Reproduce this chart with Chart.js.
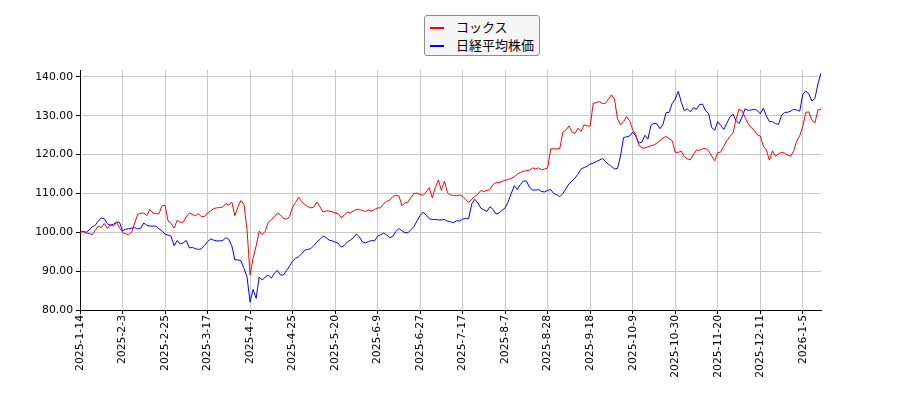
<!DOCTYPE html>
<html>
<head>
<meta charset="utf-8">
<script src="https://cdn.jsdelivr.net/npm/chart.js@4/dist/chart.umd.min.js"></script>
<style>
    body { margin: 0; background: #fff; }
    #wrap { position: relative; width: 900px; height: 400px; }
    #legend {
        position: absolute; left: 424px; top: 15px; width: 114px; height: 39px;
        border: 1px solid #8c8c8c; border-radius: 3px; background: #f5f5f5;
        font-family: "Noto Sans CJK JP", "DejaVu Sans", sans-serif; font-size: 13px; color: #000;
    }
    .row { position: absolute; left: 5px; height: 18px; line-height: 18px; white-space: nowrap; }
    .row i { display: inline-block; width: 14px; height: 2px; vertical-align: middle; margin-right: 12px; }
</style>
</head>
<body>
<div id="wrap">
    <canvas id="lineChart" width="900" height="400"></canvas>
    <div id="legend">
        <div class="row" style="top:2px"><i style="background:#ff0000"></i>コックス</div>
        <div class="row" style="top:20px"><i style="background:#0000ff"></i>日経平均株価</div>
    </div>
</div>
<script>
// x tick labels, one every 14 trading days
const tickLabels = ['2025-1-14', '2025-2-3', '2025-2-25', '2025-3-17', '2025-4-7', '2025-4-25',
    '2025-5-20', '2025-6-9', '2025-6-27', '2025-7-17', '2025-8-7', '2025-8-28',
    '2025-9-18', '2025-10-9', '2025-10-30', '2025-11-20', '2025-12-11', '2026-1-5'];
const tickStep = 14;
const yTicks = [80, 90, 100, 110, 120, 130, 140];

// コックス (indexed, start = 100)
const coxValues = [
    100, 100.2, 99.8, 99.7, 99.4, 100.5, 101.6, 101.2, 102.3, 101,
    102, 101.6, 102.6, 101.2, 100, 99.6, 99.4, 100, 102.4, 104.6,
    104.9, 105, 104.3, 105.9, 105, 104.8, 104.8, 106.8, 107, 102.9,
    102.3, 101.1, 103.1, 102.6, 102.6, 104, 105, 104.6, 104.3, 104.8,
    104, 104.1, 105, 105.5, 106.1, 106.3, 106.4, 106.5, 107.4, 107,
    107.8, 104.3, 106.5, 108.2, 107.2, 100.7, 89, 93.3, 96.5, 100.3,
    99.4, 100.3, 102.6, 103.3, 104, 105, 104.5, 103.6, 103.4, 104,
    106.5, 107.7, 109, 107.9, 107.2, 106.6, 106.3, 106.5, 107.8, 106.6,
    105.2, 105.5, 105.5, 105.3, 105, 104.8, 103.8, 104.4, 105.2, 105,
    105.5, 105.9, 105.9, 105.6, 105.4, 105.7, 105.5, 105.9, 106.3, 106.3,
    107.4, 108, 108.3, 109.2, 109.5, 109.4, 106.9, 107.5, 107.8, 109,
    110, 110.1, 109.8, 109.5, 110.4, 111.5, 108.9, 111.5, 113.5, 110.8,
    113.2, 110.2, 109.6, 109.5, 109.4, 109.6, 109.3, 108.5, 107.7, 108.6,
    109.2, 109.8, 110.8, 110.5, 110.8, 111, 112.3, 112.8, 112.8, 113.1,
    113.4, 113.6, 113.9, 114.3, 115, 115.4, 115.7, 115.9, 116, 116.6,
    116.3, 116.6, 116.1, 116.3, 116.6, 121.5, 121.5, 121.5, 121.6, 125.8,
    126.3, 127.4, 125.8, 125.5, 126.8, 126, 127.7, 127.4, 127.4, 133.2,
    133.4, 133.7, 133.2, 133.2, 134.3, 135.4, 134.3, 129.2, 127.7, 128.5,
    129.8, 128.7, 126.4, 125.2, 122.5, 121.7, 121.7, 122, 122.3, 122.5,
    123, 123.6, 124.3, 124.7, 124.1, 123.6, 120.6, 120.6, 120.9, 119.5,
    118.9, 118.7, 120, 121.2, 121.1, 121.5, 121.6, 121, 119.6, 118.4,
    120.5, 120.7, 122.2, 123.6, 124.7, 125.5, 129, 131.7, 131.3, 129.6,
    128, 127, 126.3, 125.1, 124.8, 122.2, 121.2, 118.6, 121, 119.6,
    120.2, 120.6, 120.4, 119.9, 119.6, 121, 123.5, 124.9, 127.2, 130.9,
    131, 128.9, 128.2, 131.5, 131.7
];

// 日経平均株価 (indexed, start = 100)
const nikkeiValues = [
    100, 100.3, 100, 100.6, 101.4, 101.8, 102.9, 103.7, 103.5, 102.2,
    101.8, 102.1, 102.6, 102.6, 100.4, 100.8, 100.9, 101.1, 101.2, 100.9,
    101.1, 102.4, 101.8, 101.6, 101.6, 101.6, 100.9, 100.4, 99.5, 99.3,
    99, 96.5, 97.9, 97, 97.3, 97.9, 96, 96.1, 95.8, 95.6,
    95.8, 96.6, 97.6, 98.3, 98, 97.8, 97.8, 97.9, 98.6, 98.2,
    96.5, 92.9, 92.9, 92.7, 90.7, 88.5, 82, 85.3, 83, 88.5,
    87.7, 88.5, 89, 88.2, 89.5, 90.2, 89, 89, 90.2, 91.3,
    92.6, 93.3, 93.7, 94.5, 95.4, 95.6, 95.8, 96.6, 97.5, 98.2,
    99, 98.7, 98, 97.8, 97.5, 97.2, 96.2, 96.6, 97.5, 98,
    98.6, 99.6, 98.8, 97.5, 97.3, 97.6, 97.9, 97.8, 99, 99.4,
    99.8, 99.3, 98.6, 99, 100.2, 101, 100.4, 99.9, 99.9, 100.7,
    101.5, 103, 104.3, 105.2, 104.4, 103.5, 103.3, 103.3, 103.2, 103.2,
    103.3, 102.9, 102.7, 102.5, 103, 102.9, 103.4, 103.6, 103.6, 107.3,
    108.5, 107.6, 106.2, 105.8, 105.4, 106.6, 105.9, 104.7, 105, 105.7,
    106.3, 107.9, 110, 112, 111, 112.3, 113.2, 113.2, 111.6, 110.9,
    110.9, 111, 110.5, 110.4, 110.8, 111, 110, 109.7, 109.2, 110,
    111.2, 112.5, 113.2, 114, 115, 116.3, 116.7, 117, 117.6, 117.8,
    118.2, 118.6, 119, 118.3, 117.5, 117, 116.3, 116.5, 119.7, 124.4,
    124.6, 124.8, 125.8, 124.8, 123, 123.2, 125, 124, 127.5, 128.1,
    127.9, 126.7, 127.9, 130.8, 130.9, 133.2, 134.3, 136.3, 133.5, 131.3,
    131.8, 131, 132.1, 131.7, 132.9, 133, 131.3, 130.6, 127, 126.3,
    128.5, 127.5, 126.5, 128.1, 129.7, 130.4, 128.8, 128, 129.6, 131.8,
    131.4, 131.5, 131.7, 131.4, 130.5, 132, 130, 128.5, 128.5, 128,
    127.8, 130.1, 130.9, 130.9, 131.2, 131.7, 131.5, 131.2, 135.5, 136.4,
    135.6, 133.8, 134.5, 138.2, 141
];

const tickFont = { family: 'DejaVu Sans', size: 10.8 };

function toPoints(values) {
    return values.map((v, i) => ({ x: i, y: v }));
}

function drawLineChart(canvasId) {
    const ctx = document.getElementById(canvasId);

    return new Chart(ctx, {
        type: 'line',
        data: {
            datasets: [{
                label: 'コックス',
                data: toPoints(coxValues),
                borderColor: '#ff0000',
                borderWidth: 1,
                pointRadius: 0,
                tension: 0
            }, {
                label: '日経平均株価',
                data: toPoints(nikkeiValues),
                borderColor: '#0000ff',
                borderWidth: 1,
                pointRadius: 0,
                tension: 0
            }]
        },
        options: {
            responsive: false,
            animation: false,
            devicePixelRatio: 1,
            layout: { padding: { top: 70, right: 79, left: 0, bottom: 0 } },
            plugins: {
                legend: { display: false },
                tooltip: { enabled: false }
            },
            scales: {
                x: {
                    type: 'linear',
                    min: 0,
                    max: coxValues.length - 1,
                    afterBuildTicks: scale => {
                        scale.ticks = tickLabels.map((t, i) => ({ value: i * tickStep }));
                    },
                    afterFit: scale => { scale.height = 90; },
                    grid: { color: '#c8c8c8', tickColor: '#000', tickLength: 4 },
                    border: { color: '#000' },
                    ticks: {
                        font: tickFont,
                        color: '#000',
                        padding: 1,
                        minRotation: 90,
                        maxRotation: 90,
                        autoSkip: false,
                        callback: v => tickLabels[Math.round(v / tickStep)]
                    }
                },
                y: {
                    min: 80,
                    max: 141.8,
                    afterBuildTicks: scale => {
                        scale.ticks = yTicks.map(v => ({ value: v }));
                    },
                    afterFit: scale => { scale.width = 80; },
                    grid: { color: '#c8c8c8', tickColor: '#000', tickLength: 4 },
                    border: { color: '#000' },
                    ticks: {
                        font: tickFont,
                        color: '#000',
                        padding: 3,
                        callback: v => v.toFixed(2)
                    }
                }
            }
        }
    });
}

drawLineChart('lineChart');
</script>
</body>
</html>
